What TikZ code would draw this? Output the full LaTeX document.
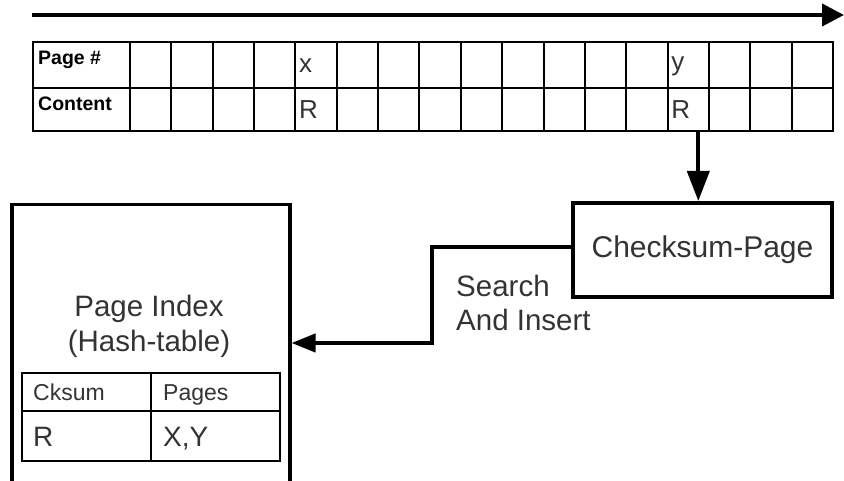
\documentclass[tikz,border=0pt]{standalone}
\usepackage{fontspec}
\setmainfont{Liberation Sans}
\usetikzlibrary{arrows.meta}
\definecolor{txt}{HTML}{333333}
\begin{document}
\begin{tikzpicture}[x=1pt,y=-1pt,
  tbl/.style={line width=2pt},
  conn/.style={line width=4pt},
  hd/.style={anchor=base west,inner sep=0pt,font=\bfseries\fontsize{19.5}{22}\selectfont,text=black},
  cell/.style={minimum width=41.35pt,minimum height=43pt,inner sep=0pt,text width=34pt,align=left,font=\fontsize{26}{28}\selectfont,text=txt},
  box/.style={draw,line width=4pt,inner sep=0pt},
  lab/.style={inner sep=0pt,text=txt}]
\useasboundingbox (0,0) rectangle (844,481);
\clip (0,0) rectangle (844,481);
% time arrow
\coordinate (t0) at (32,15);
\coordinate (t1) at (844,15);
\draw[conn,-{Triangle[length=22pt,width=22pt]}] (t0) -- (t1);
% page table
\draw[tbl] (33,42) rectangle (833,131);
\draw[tbl] (33,88) -- (833,88);
\draw[tbl] (130,42) -- (130,131);
\foreach \i in {1,...,16} \draw[tbl] ({130+\i*41.353},42) -- ({130+\i*41.353},131);
\node[hd] (ph) at (38,65) {Page \#};
\node[hd] (ct) at (38,111) {Content};
\node[cell] (xp) at (316.1,66) {x};
\node[cell] (xr) at (316.1,110) {R};
\node[cell] (yp) at (688.3,66) {y};
\node[cell] (yr) at (688.3,110) {R};
% checksum box
\node[box,minimum width=259pt,minimum height=94pt,font=\fontsize{30}{34}\selectfont,text=txt] (cks) at (702.5,250) {Checksum-Page};
\draw[conn,-{Triangle[length=30pt,width=22pt]}] ([xshift=10pt]yr.south) -- ([xshift=10pt]yr.south |- cks.north);
% page index box
\node[draw,line width=3.5pt,minimum width=278pt,minimum height=290pt,anchor=north west,inner sep=0pt] (pi) at (10,203) {};
\node[lab,align=center,font=\fontsize{29.5}{35}\selectfont] (pil) at (149,326) {Page Index\\(Hash-table)};
% connector
\coordinate (jn) at (432,343);
\draw[conn,-{Triangle[length=24pt,width=18pt]}] ([yshift=3pt]cks.west) -| (jn) -- (jn -| pi.east);
\node[lab,anchor=north west,align=left,font=\fontsize{29.5}{34}\selectfont] (si) at (456,275) {Search\\And Insert};
% inner table
\draw[tbl] (22,373) rectangle (280,461);
\draw[tbl] (22,411) -- (280,411);
\draw[tbl] (151,373) -- (151,461);
\node[lab,anchor=base west,font=\fontsize{23}{26}\selectfont] (ck) at (33,400) {Cksum};
\node[lab,anchor=base west,font=\fontsize{23}{26}\selectfont] (pg) at (163,400) {Pages};
\node[lab,anchor=base west,font=\fontsize{28}{32}\selectfont] (rr) at (33,446) {R};
\node[lab,anchor=base west,font=\fontsize{28}{32}\selectfont] (xy) at (163,446) {X,Y};
\end{tikzpicture}
\end{document}
